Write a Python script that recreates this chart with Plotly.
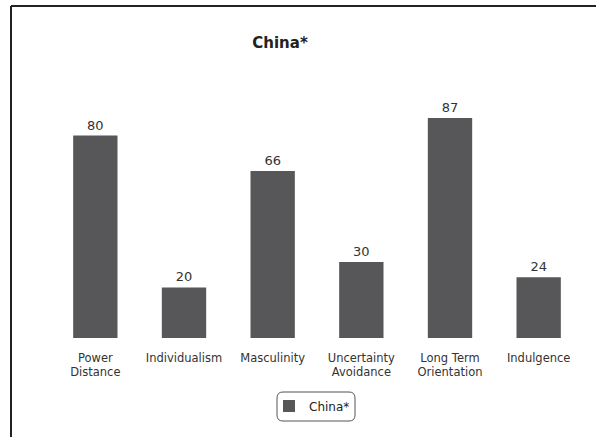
import plotly.graph_objects as go

categories = ["Power<br>Distance", "Individualism", "Masculinity",
              "Uncertainty<br>Avoidance", "Long Term<br>Orientation", "Indulgence"]
values = [80, 20, 66, 30, 87, 24]
series_name = "China*"

W, H = 596, 437
L, R, T, B = 51, 13, 85, 99
PW, PH = W - L - R, H - T - B

def px_x(px):
    return (px - L) / PW

def px_y(py):
    return (H - B - py) / PH

bar_color = "#575759"
font_fam = "DejaVu Sans"

fig = go.Figure()
fig.add_trace(go.Bar(
    x=categories, y=values, name=series_name,
    marker=dict(color=bar_color, line=dict(width=0)),
    text=[str(v) for v in values], textposition="outside",
    textfont=dict(size=13, color="#333333", family=font_fam),
    cliponaxis=False, showlegend=True,
))

# rounded legend box
x0, x1, y0, y1, r = px_x(277), px_x(355), px_y(392), px_y(421), 6
rx, ry = r / PW, r / PH
path = (f"M {x0+rx},{y0} L {x1-rx},{y0} Q {x1},{y0} {x1},{y0-ry} "
        f"L {x1},{y1+ry} Q {x1},{y1} {x1-rx},{y1} "
        f"L {x0+rx},{y1} Q {x0},{y1} {x0},{y1+ry} "
        f"L {x0},{y0-ry} Q {x0},{y0} {x0+rx},{y0} Z")

shapes = [
    dict(type="line", xref="paper", yref="paper",
         x0=px_x(11), x1=px_x(600), y0=px_y(6), y1=px_y(6),
         line=dict(color="#222222", width=2)),
    dict(type="line", xref="paper", yref="paper",
         x0=px_x(11), x1=px_x(11), y0=px_y(6), y1=px_y(440),
         line=dict(color="#222222", width=2)),
    dict(type="path", xref="paper", yref="paper", path=path,
         line=dict(color="#555555", width=1)),
]

fig.update_layout(
    width=W, height=H,
    margin=dict(l=L, r=R, t=T, b=B, pad=0),
    paper_bgcolor="white", plot_bgcolor="white",
    font=dict(family=font_fam, color="#333333", size=11),
    title=dict(text="<b>China*</b>", x=280 / W, xanchor="center",
               y=1 - 43 / H, yanchor="middle",
               font=dict(size=15, color="#222222", family=font_fam)),
    bargap=0.5,
    xaxis=dict(showline=False, showgrid=False, zeroline=False, ticks="",
               tickfont=dict(size=11.5, color="#333333", family=font_fam),
               ticklabelstandoff=11),
    yaxis=dict(range=[0, 100], visible=False),
    legend=dict(orientation="h", x=px_x(312), xanchor="center",
                y=px_y(406), yanchor="middle",
                font=dict(size=12, color="#222222", family=font_fam),
                bgcolor="rgba(0,0,0,0)", borderwidth=0),
    shapes=shapes,
)

fig.write_html("out.html")
